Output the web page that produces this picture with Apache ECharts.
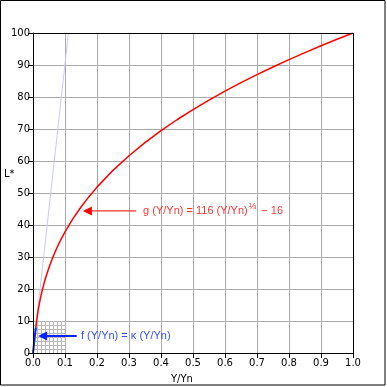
<!DOCTYPE html>
<html><head><meta charset="utf-8">
<script src="https://cdn.jsdelivr.net/npm/echarts@6/dist/echarts.min.js"></script>
<style>html,body{margin:0;padding:0;background:#fff}#c{width:387px;height:387px}</style>
</head><body><div id="c"></div>
<script>
// Data
const xTicks = [0,0.1,0.2,0.3,0.4,0.5,0.6,0.7,0.8,0.9,1.0];
const yTicks = [0,10,20,30,40,50,60,70,80,90,100];
// red curve g(Y/Yn)
const gX = [0.008856,0.01,0.0125,0.015,0.0175,0.02,0.025,0.03,0.035,0.04,0.05,0.06,0.07,0.08,0.09,0.1,0.125,0.15,0.175,0.2,0.25,0.3,0.35,0.4,0.45,0.5,0.55,0.6,0.65,0.7,0.75,0.8,0.85,0.9,0.95,1.0];
const gY = [8.0,8.99,10.92,12.61,14.13,15.49,17.92,20.04,21.93,23.67,26.73,29.41,31.82,33.98,35.99,37.84,42.0,45.63,48.86,51.84,57.08,61.65,65.75,69.47,72.89,76.07,79.04,81.84,84.49,87.0,89.39,91.69,93.88,96.0,98.03,100.0];
// blue linear part f(Y/Yn)
const fX = [0,0.008856];
const fY = [0,8.0];
// lavender extension of linear part
const kX = [0,0.1107];
const kY = [0,100];
// annotations
const gArrowX = [0.3225,0.170];
const gArrowY = [44.4,44.4];
const fArrowX = [0.1366,0.030];
const fArrowY = [5.3,5.3];
const gLabelAt = [0.344,44.4];
const fLabelAt = [0.150,5.3];

const zip = (a,b)=>a.map((v,i)=>[v,b[i]]);
const arrowData = (xs,ys)=>xs.map((x,i)=>({value:[x,ys[i]], symbol: i===xs.length-1?'triangle':'none', symbolSize:[9,9], symbolRotate:90}));
const FONT = 'DejaVu Sans';
const LFONT = 'Liberation Sans';
const chart = echarts.init(document.getElementById('c'), null, {renderer:'canvas'});
chart.setOption({
  animation:false,
  backgroundColor:'#fff',
  grid:[
    {left:33, top:33, width:320, height:320, containLabel:false},
    {left:33, top:321, width:32, height:32, containLabel:false}
  ],
  xAxis:[
    {gridIndex:0, type:'value', min:0, max:1, interval:0.1,
     axisLine:{show:true, onZero:false, lineStyle:{color:'#000', width:1}},
     axisTick:{show:true, inside:false, length:5, lineStyle:{color:'#000'}},
     axisLabel:{color:'#000', fontFamily:FONT, fontSize:10, margin:5, formatter:v=>v.toFixed(1)},
     splitLine:{show:true, lineStyle:{color:'#aaaaaa', width:1}}},
    {gridIndex:1, type:'value', min:0, max:0.1, interval:0.0125,
     axisLine:{show:false}, axisTick:{show:false}, axisLabel:{show:false},
     splitLine:{show:true, lineStyle:{color:'#b8b8b8', width:1}}}
  ],
  yAxis:[
    {gridIndex:0, type:'value', min:0, max:100, interval:10,
     axisLine:{show:true, onZero:false, lineStyle:{color:'#000', width:1}},
     axisTick:{show:true, inside:false, length:5, lineStyle:{color:'#000'}},
     axisLabel:{color:'#000', fontFamily:FONT, fontSize:10, margin:3},
     splitLine:{show:true, lineStyle:{color:'#aaaaaa', width:1}}},
    {gridIndex:1, type:'value', min:0, max:10, interval:1.25,
     axisLine:{show:false}, axisTick:{show:false}, axisLabel:{show:false},
     splitLine:{show:true, lineStyle:{color:'#b8b8b8', width:1}}}
  ],
  series:[
    {type:'line', data:zip(kX,kY), showSymbol:false, lineStyle:{color:'#c8c8ff', width:1}, z:3},
    {type:'line', data:zip(gX,gY), showSymbol:false, lineStyle:{color:'#ff0000', width:1.5}, z:5},
    {type:'line', data:zip(fX,fY), showSymbol:false, lineStyle:{color:'#0022ff', width:2}, z:6},
    {type:'line', data:arrowData(gArrowX,gArrowY), showSymbol:true, showAllSymbol:true, z:6, silent:true,
     lineStyle:{color:'#ff0000', width:1}, itemStyle:{color:'#ff0000', borderWidth:0}},
    {type:'line', data:arrowData(fArrowX,fArrowY), showSymbol:true, showAllSymbol:true, z:6, silent:true,
     lineStyle:{color:'#0022ff', width:2}, itemStyle:{color:'#0022ff', borderWidth:0}},
    {type:'scatter', symbolSize:0, z:7, silent:true,
     data:[{value:gLabelAt, label:{show:true, position:'right', distance:0, color:'#ff0000', fontFamily:LFONT, fontSize:11,
        formatter:'{a|g (Y/Yn) = 116 (Y/Yn)}{s|⅓}{a| − 16}',
        rich:{a:{color:'#ff0000', fontFamily:LFONT, fontSize:11},
              s:{color:'#ff0000', fontFamily:LFONT, fontSize:9, padding:[0,2,8,1]}}}},
      {value:fLabelAt, label:{show:true, position:'right', distance:0, color:'#0022ff', fontFamily:LFONT, fontSize:11,
        formatter:'f (Y/Yn) = κ (Y/Yn)'}}]}
  ],
  graphic:[
    {type:'rect', shape:{x:0.5, y:0.5, width:384.5, height:384.5}, style:{fill:null, stroke:'#000', lineWidth:1}, silent:true},
    {type:'rect', shape:{x:33.5, y:33.5, width:320, height:320}, style:{fill:null, stroke:'#000', lineWidth:1}, silent:true, z:10},
    {type:'text', left:4, top:169, style:{text:'L*', fill:'#000', font:'10px "DejaVu Sans"'}},
    {type:'text', left:171, top:374, style:{text:'Y/Yn', fill:'#000', font:'10px "DejaVu Sans"'}}
  ]
});
</script></body></html>
